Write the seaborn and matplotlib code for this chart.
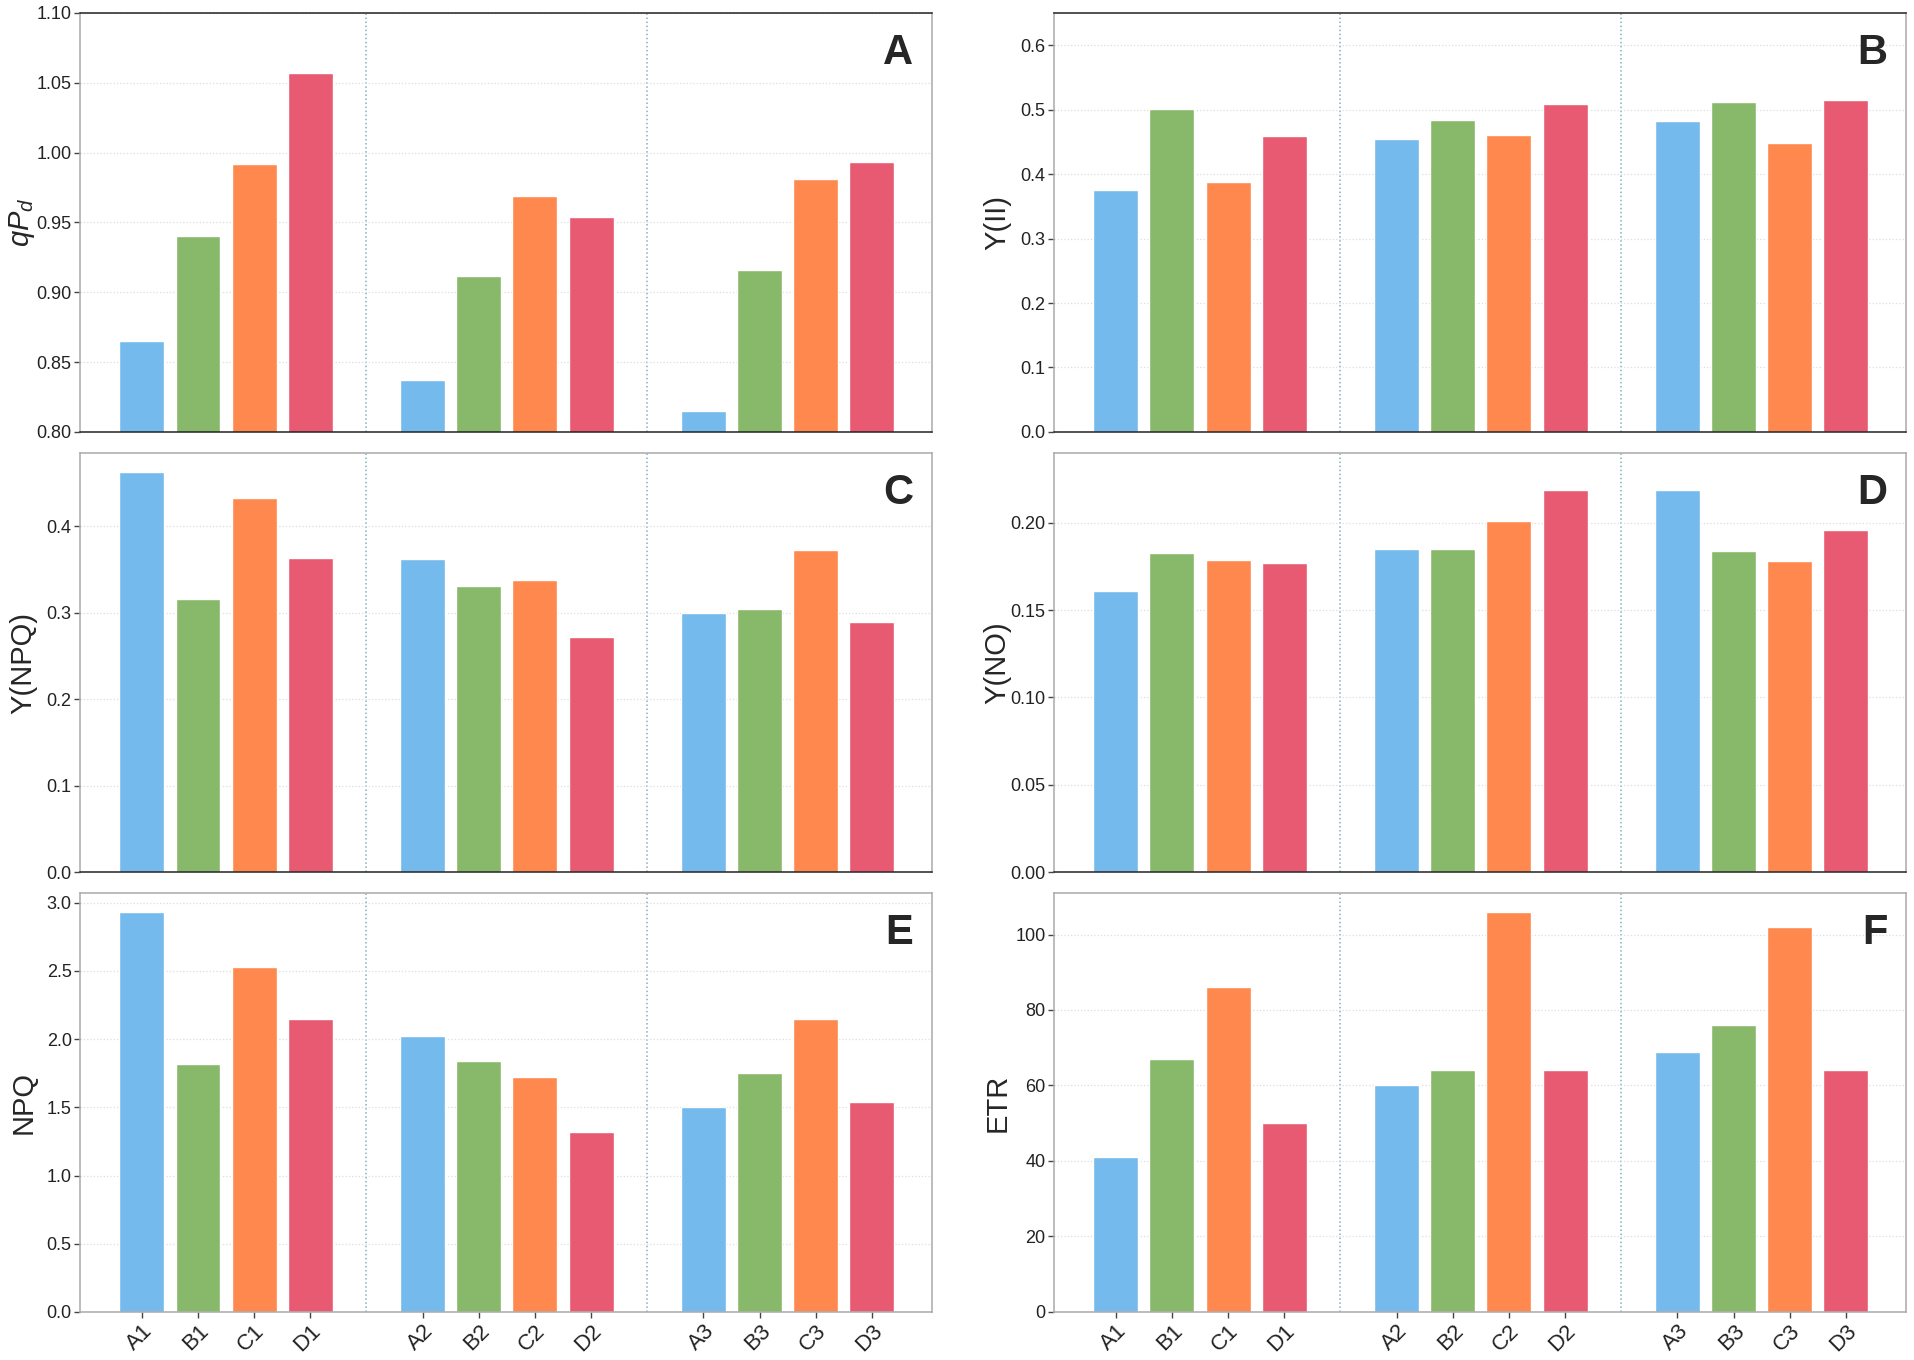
import seaborn as sns
import matplotlib.pyplot as plt
import pandas as pd

# values
categories = ["A1", "B1", "C1", "D1", "A2", "B2", "C2", "D2", "A3", "B3", "C3", "D3"]
groups = ["A", "B", "C", "D"] * 3

qpd = [0.865, 0.940, 0.992, 1.057, 0.837, 0.912, 0.969, 0.954, 0.815, 0.916, 0.981, 0.993]
y_ii = [0.376, 0.501, 0.388, 0.459, 0.454, 0.484, 0.461, 0.509, 0.482, 0.512, 0.448, 0.515]
y_npq = [0.463, 0.316, 0.433, 0.364, 0.362, 0.331, 0.338, 0.272, 0.300, 0.304, 0.373, 0.289]
y_no = [0.161, 0.183, 0.179, 0.177, 0.185, 0.185, 0.201, 0.219, 0.219, 0.184, 0.178, 0.196]
npq = [2.93, 1.82, 2.53, 2.15, 2.02, 1.84, 1.72, 1.32, 1.50, 1.75, 2.15, 1.54]
etr = [41, 67, 86, 50, 60, 64, 106, 64, 69, 76, 102, 64]

# empty slots between the three blocks
order = ["A1", "B1", "C1", "D1", " ", "A2", "B2", "C2", "D2", "  ", "A3", "B3", "C3", "D3"]
colors = {"A": "#74BAEC", "B": "#88B96B", "C": "#FE884D", "D": "#E85A72"}

panels = [
    ("A", qpd, "$qP_d$", (0.80, 1.10), [0.80, 0.85, 0.90, 0.95, 1.00, 1.05, 1.10], "{:.2f}"),
    ("B", y_ii, "Y(II)", (0, 0.65), [0.0, 0.1, 0.2, 0.3, 0.4, 0.5, 0.6], "{:.1f}"),
    ("C", y_npq, "Y(NPQ)", (0, 0.485), [0.0, 0.1, 0.2, 0.3, 0.4], "{:.1f}"),
    ("D", y_no, "Y(NO)", (0, 0.24), [0.00, 0.05, 0.10, 0.15, 0.20], "{:.2f}"),
    ("E", npq, "NPQ", (0, 3.07), [0.0, 0.5, 1.0, 1.5, 2.0, 2.5, 3.0], "{:.1f}"),
    ("F", etr, "ETR", (0, 111), [0, 20, 40, 60, 80, 100], "{:.0f}"),
]

sns.set_style("whitegrid")
plt.rcParams["font.family"] = ["Liberation Sans", "DejaVu Sans"]
plt.rcParams["mathtext.fontset"] = "custom"
plt.rcParams["mathtext.it"] = "Liberation Sans:italic"
plt.rcParams["mathtext.rm"] = "Liberation Sans"

fig = plt.figure(figsize=(19.15, 13.6), dpi=100)

lefts = [0.0418, 0.5504]
bottoms = [0.6824, 0.3588, 0.0353]
w, h = 0.4449, 0.3081

for i, (letter, vals, ylabel, ylim, yticks, fmt) in enumerate(panels):
    row, col = divmod(i, 2)
    ax = fig.add_axes([lefts[col], bottoms[row], w, h])
    df = pd.DataFrame({"cat": categories, "grp": groups, "val": vals})
    sns.barplot(data=df, x="cat", y="val", hue="grp", order=order, palette=colors,
                dodge=False, width=0.8, legend=False, ax=ax, saturation=1)

    ax.set_xlim(-1.1, 14.07)
    ax.set_ylim(*ylim)
    ax.set_yticks(yticks)
    ax.set_yticklabels([fmt.format(t) for t in yticks], fontsize=13)

    pos = [k for k, c in enumerate(order) if c.strip()]
    ax.set_xticks(pos)
    if row == 2:
        ax.set_xticklabels([order[k] for k in pos], rotation=45, ha="right",
                           rotation_mode="anchor", fontsize=16)
    else:
        ax.set_xticklabels([])
        ax.tick_params(axis="x", length=0)

    ax.set_xlabel("")
    ax.set_ylabel(ylabel, fontsize=21)
    ax.yaxis.set_label_coords(-0.05, 0.5)

    ax.grid(axis="x", visible=False)
    ax.grid(axis="y", color="#dddddd", linestyle=":", linewidth=0.9)
    ax.set_axisbelow(True)
    for xv in (4, 9):
        ax.axvline(xv, color="#7fb2c0", linestyle=":", linewidth=1.1, zorder=0)

    ax.tick_params(axis="both", direction="out", length=4, width=1, colors="#444444",
                   left=True, bottom=(row == 2), pad=2)
    ax.tick_params(axis="both", labelcolor="#222222")
    for side in ["left", "right", "top", "bottom"]:
        ax.spines[side].set_color("#aaaaaa")
        ax.spines[side].set_linewidth(1.1)
    if row < 2:
        ax.spines["bottom"].set_color("#222222")
    if row == 0:
        ax.spines["top"].set_color("#222222")

    ax.text(0.978, 0.952, letter, transform=ax.transAxes, ha="right", va="top",
            fontsize=30, fontweight="bold")

fig.savefig("out.png", dpi=100)
